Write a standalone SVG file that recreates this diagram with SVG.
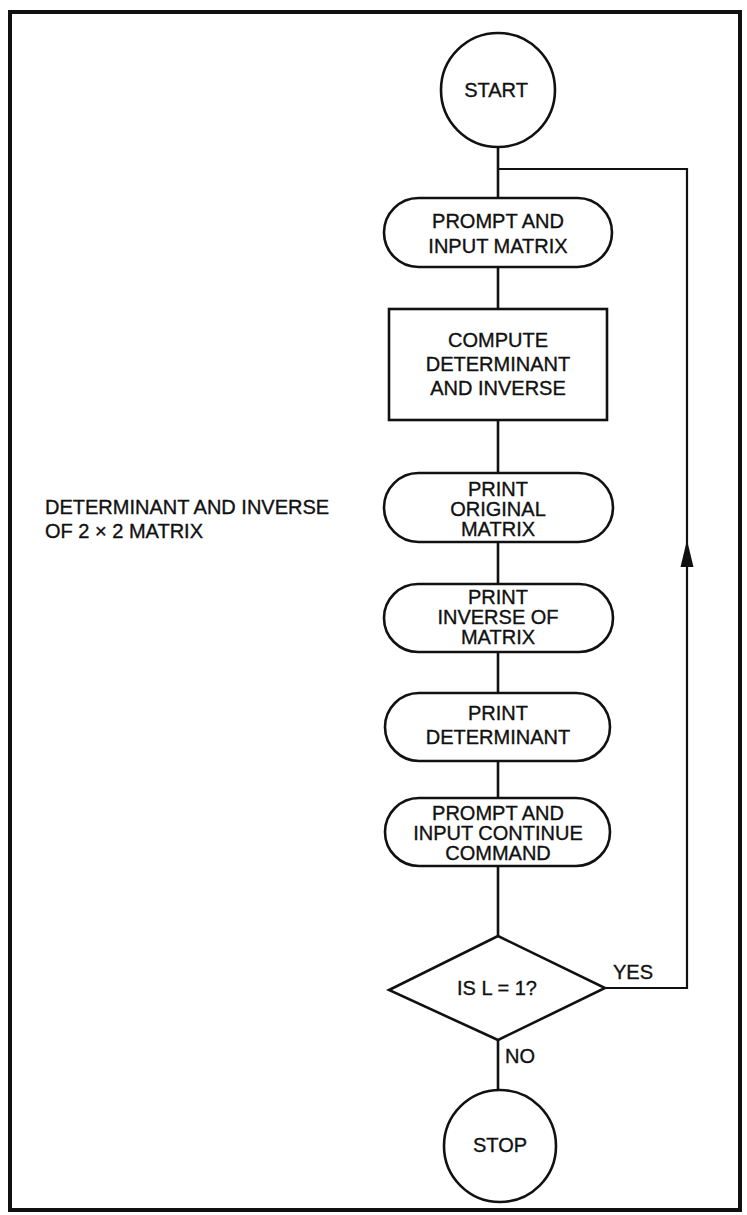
<svg xmlns="http://www.w3.org/2000/svg" width="747" height="1215" viewBox="0 0 747 1215">
<style>
  .bg { fill: #ffffff; }
  .frame { fill: none; stroke: #111; stroke-width: 4; }
  .shape { fill: #ffffff; stroke: #111; stroke-width: 2.6; }
  .conn { fill: none; stroke: #111; stroke-width: 2.6; }
  .loop { fill: none; stroke: #111; stroke-width: 2.2; }
  .t { font-family: "Liberation Sans", Arial, Helvetica, sans-serif; font-size: 20px; fill: #111; stroke: #111; stroke-width: 0.35; }
  .c { text-anchor: middle; }
</style>
<rect class="bg" x="0" y="0" width="747" height="1215"/>
<rect class="frame" x="10" y="12" width="730" height="1198"/>

<g id="connectors">
  <line class="conn" x1="498" y1="147" x2="498" y2="198"/>
  <line class="conn" x1="498" y1="267" x2="498" y2="309"/>
  <line class="conn" x1="498" y1="420" x2="498" y2="473"/>
  <line class="conn" x1="498" y1="542" x2="498" y2="584"/>
  <line class="conn" x1="498" y1="652" x2="498" y2="693"/>
  <line class="conn" x1="498" y1="761" x2="498" y2="798"/>
  <line class="conn" x1="498" y1="866" x2="498" y2="936"/>
  <line class="conn" x1="498" y1="1040" x2="498" y2="1090"/>
  <polyline class="loop" points="605,988 687,988 687,169 498,169"/>
  <path d="M680.5,567 L687,540 L693.5,567 Z" fill="#111"/>
  <text class="t" x="613" y="979">YES</text>
  <text class="t" x="505" y="1063">NO</text>
</g>

<g id="start">
  <circle class="shape" cx="498" cy="90" r="57"/>
  <text class="t c" x="496" y="97">START</text>
</g>

<g id="prompt-input">
  <rect class="shape" x="384" y="198" width="228" height="69" rx="34.5" ry="34.5"/>
  <text class="t c" x="498" y="228">PROMPT AND</text>
  <text class="t c" x="498" y="253">INPUT MATRIX</text>
</g>

<g id="compute">
  <rect class="shape" x="389" y="309" width="218" height="111"/>
  <text class="t c" x="498" y="347">COMPUTE</text>
  <text class="t c" x="498" y="371">DETERMINANT</text>
  <text class="t c" x="498" y="395">AND INVERSE</text>
</g>

<g id="print-original">
  <rect class="shape" x="384" y="473" width="229" height="69" rx="34.5" ry="34.5"/>
  <text class="t c" x="498" y="496">PRINT</text>
  <text class="t c" x="498" y="516">ORIGINAL</text>
  <text class="t c" x="498" y="536">MATRIX</text>
</g>

<g id="print-inverse">
  <rect class="shape" x="384" y="584" width="229" height="68" rx="34" ry="34"/>
  <text class="t c" x="498" y="604">PRINT</text>
  <text class="t c" x="498" y="624">INVERSE OF</text>
  <text class="t c" x="498" y="644">MATRIX</text>
</g>

<g id="print-determinant">
  <rect class="shape" x="385" y="693" width="225" height="68" rx="34" ry="34"/>
  <text class="t c" x="498" y="720">PRINT</text>
  <text class="t c" x="498" y="744">DETERMINANT</text>
</g>

<g id="prompt-continue">
  <rect class="shape" x="385" y="798" width="225" height="68" rx="34" ry="34"/>
  <text class="t c" x="498" y="820">PROMPT AND</text>
  <text class="t c" x="498" y="840">INPUT CONTINUE</text>
  <text class="t c" x="498" y="860">COMMAND</text>
</g>

<g id="decision">
  <polygon class="shape" points="498,936 605,988 498,1040 389,990"/>
  <text class="t c" x="497" y="995">IS L = 1?</text>
</g>

<g id="stop">
  <circle class="shape" cx="500" cy="1146" r="56"/>
  <text class="t c" x="500" y="1152">STOP</text>
</g>

<g id="title">
  <text class="t" x="45" y="514">DETERMINANT AND INVERSE</text>
  <text class="t" x="45" y="538">OF 2 × 2 MATRIX</text>
</g>
</svg>
